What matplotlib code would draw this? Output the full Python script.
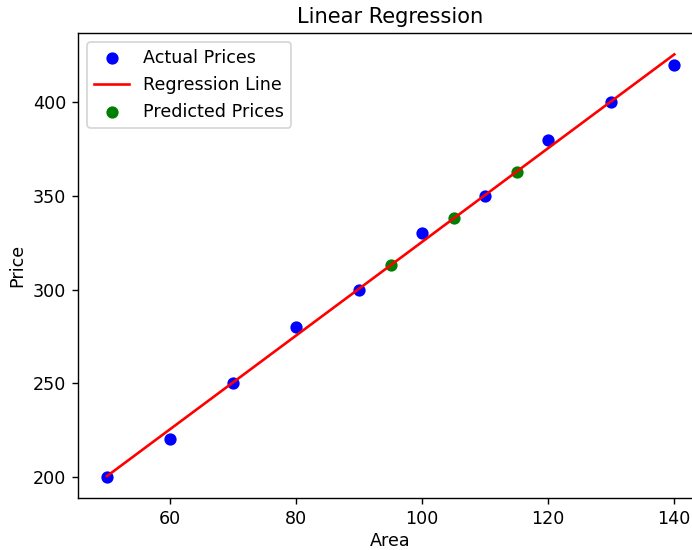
import numpy as np
import matplotlib
matplotlib.use("Agg")
import matplotlib.pyplot as plt

# house data
area = np.array([50, 60, 70, 80, 90, 100, 110, 120, 130, 140])
price = np.array([200, 220, 250, 280, 300, 330, 350, 380, 400, 420])

# new areas to predict
new_area = np.array([95, 105, 115])

# least squares fit
slope, intercept = np.polyfit(area, price, 1)
line_price = slope * area + intercept
pred_price = slope * new_area + intercept

dpi = 126
fig = plt.figure(figsize=(692 / dpi, 550 / dpi), dpi=dpi)
ax = fig.add_axes([0.1134, 0.0945, 0.902, 0.845])

ax.scatter(area, price, color="blue", label="Actual Prices")
ax.plot(area, line_price, color="red", label="Regression Line")
ax.scatter(new_area, pred_price, color="green", label="Predicted Prices")

ax.set_xlabel("Area", labelpad=2)
ax.set_ylabel("Price")
ax.set_title("Linear Regression")
ax.legend(loc="upper left")

fig.savefig("out.png", dpi=dpi)
